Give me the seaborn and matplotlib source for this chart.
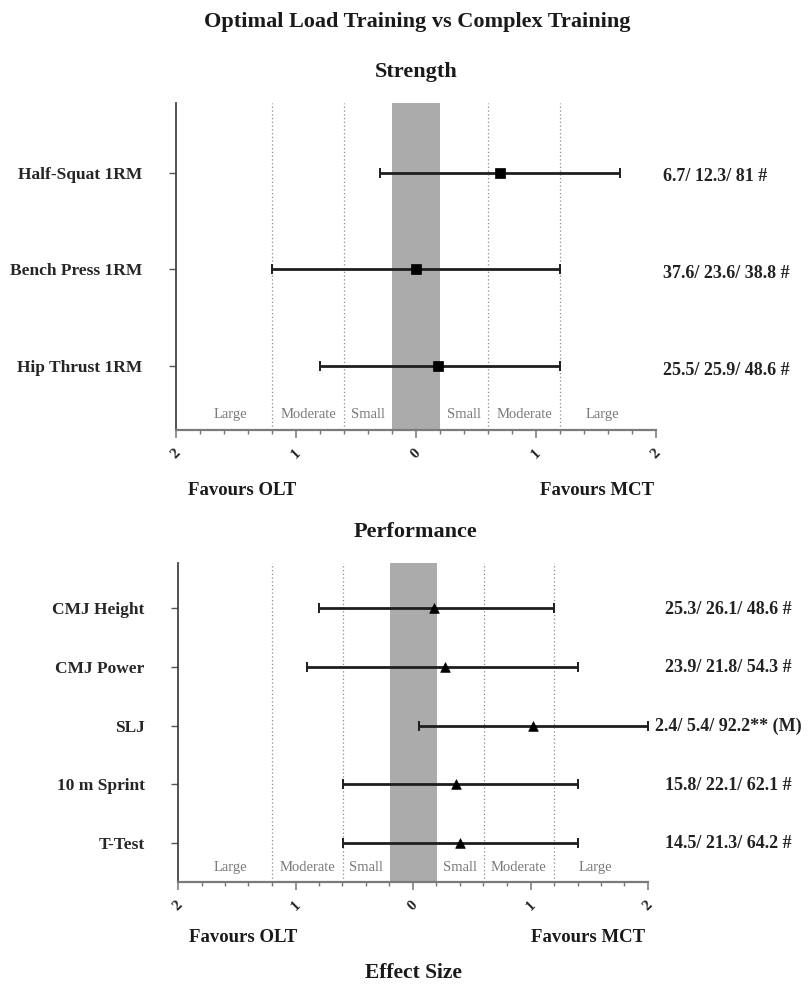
import matplotlib
matplotlib.use("Agg")
import matplotlib.pyplot as plt
import matplotlib.transforms as mtransforms
import seaborn as sns
import pandas as pd
import numpy as np

# ---------------- data ----------------
strength_labels = ["Half-Squat 1RM", "Bench Press 1RM", "Hip Thrust 1RM"]
strength_es = [0.70, 0.00, 0.18]
strength_lo = [-0.30, -1.20, -0.80]
strength_hi = [1.70, 1.20, 1.20]
strength_notes = ["6.7/ 12.3/ 81 #", "37.6/ 23.6/ 38.8 #", "25.5/ 25.9/ 48.6 #"]

perf_labels = ["CMJ Height", "CMJ Power", "SLJ", "10 m Sprint", "T-Test"]
perf_es = [0.18, 0.27, 1.02, 0.37, 0.40]
perf_lo = [-0.80, -0.90, 0.05, -0.60, -0.60]
perf_hi = [1.20, 1.40, 2.00, 1.40, 1.40]
perf_notes = ["25.3/ 26.1/ 48.6 #", "23.9/ 21.8/ 54.3 #", "2.4/ 5.4/ 92.2** (M)",
              "15.8/ 22.1/ 62.1 #", "14.5/ 21.3/ 64.2 #"]

zone_names = ["Large", "Moderate", "Small", "Small", "Moderate", "Large"]
zone_centers = [-1.55, -0.9, -0.4, 0.4, 0.9, 1.55]
threshold_lines = [-1.2, -0.6, 0.6, 1.2]
trivial_band = (-0.2, 0.2)
xtick_vals = [-2, -1, 0, 1, 2]
xtick_text = ["2", "1", "0", "1", "2"]

# ---------------- style ----------------
sns.set_style("ticks")
plt.rcParams["font.family"] = ["Liberation Serif", "DejaVu Serif"]
plt.rcParams["font.weight"] = "bold"

W, H = 811, 984
fig = plt.figure(figsize=(W / 100, H / 100), dpi=100)


def px_box(left, right, top, bottom):
    return [left / W, 1 - bottom / H, (right - left) / W, (bottom - top) / H]


def draw_panel(ax, labels, es, lo, hi, notes, marker, msize, ylim, zone_y,
               note_x, note_ha, note_dy):
    n = len(labels)
    ypos = np.arange(n)
    df = pd.DataFrame({"label": labels, "es": es, "lo": lo, "hi": hi, "y": ypos})

    ax.axvspan(*trivial_band, color="#ababab", lw=0, zorder=0)
    for x in threshold_lines:
        ax.axvline(x, color="#8a8a8a", lw=0.9, ls=(0, (1, 2)), zorder=1)

    xerr = np.vstack([df["es"] - df["lo"], df["hi"] - df["es"]])
    ax.errorbar(df["es"], df["y"], xerr=xerr, fmt="none", ecolor="#1e1e1e",
                elinewidth=2.0, capsize=3.3, capthick=1.4, zorder=3)
    sns.scatterplot(data=df, x="es", y="y", marker=marker, s=msize,
                    color="black", edgecolor="black", linewidth=0.5,
                    ax=ax, zorder=4, legend=False)

    ax.set_xlim(-2, 2)
    ax.set_ylim(*ylim)
    ax.set_yticks(ypos)
    ax.set_yticklabels(labels, fontsize=12.5, fontweight="bold")
    ax.set_xticks(xtick_vals)
    ax.set_xticklabels(xtick_text, rotation=45, fontsize=11, fontweight="bold")
    ax.set_xticks(np.arange(-2, 2.01, 0.2), minor=True)
    ax.set_xlabel("")
    ax.set_ylabel("")
    ax.tick_params(axis="x", which="major", length=6, width=1.1,
                   color="#777777", pad=6)
    ax.tick_params(axis="x", which="minor", length=3, width=1.0,
                   color="#777777")
    ax.tick_params(axis="y", length=5, width=1.0, color="#555555", pad=19)
    sns.despine(ax=ax)
    ax.spines["left"].set_color("#444444")
    ax.spines["left"].set_linewidth(1.3)
    ax.spines["bottom"].set_color("#7a7a7a")
    ax.spines["bottom"].set_linewidth(1.6)

    for name, xc in zip(zone_names, zone_centers):
        ax.text(xc, zone_y, name, ha="center", va="center", fontsize=10.5,
                fontweight="normal", color="#7a7a7a", zorder=5)

    tr = mtransforms.blended_transform_factory(fig.transFigure, ax.transData)
    tr = mtransforms.offset_copy(tr, fig=fig, y=-note_dy, units="dots")
    for yv, note in zip(ypos, notes):
        ax.text(note_x / W, yv, note, transform=tr, ha=note_ha, va="center",
                fontsize=13, fontweight="bold", color="#222222", clip_on=False)


ax1 = fig.add_axes(px_box(176, 656, 103, 430))
draw_panel(ax1, strength_labels, strength_es, strength_lo, strength_hi,
           strength_notes, "s", 48, (2.663, -0.725), 2.50, 663, "left", 4)

ax2 = fig.add_axes(px_box(178, 648, 563, 882))
draw_panel(ax2, perf_labels, perf_es, perf_lo, perf_hi,
           perf_notes, "^", 48, (4.67, -0.773), 4.43, 728, "center", 1)

# ---------------- figure texts ----------------
def ftext(xp, yp, s, size):
    fig.text(xp / W, 1 - yp / H, s, ha="center", va="center", fontsize=size,
             fontweight="bold", color="#1a1a1a")

ftext(417, 22, "Optimal Load Training vs Complex Training", 16)
ftext(416, 72, "Strength", 16)
ftext(242, 490, "Favours OLT", 13.5)
ftext(597, 490, "Favours MCT", 13.5)
ftext(415, 532, "Performance", 16)
ftext(243, 938, "Favours OLT", 13.5)
ftext(588, 938, "Favours MCT", 13.5)
ftext(413, 973, "Effect Size", 15.5)

fig.savefig("out.png", dpi=100)
